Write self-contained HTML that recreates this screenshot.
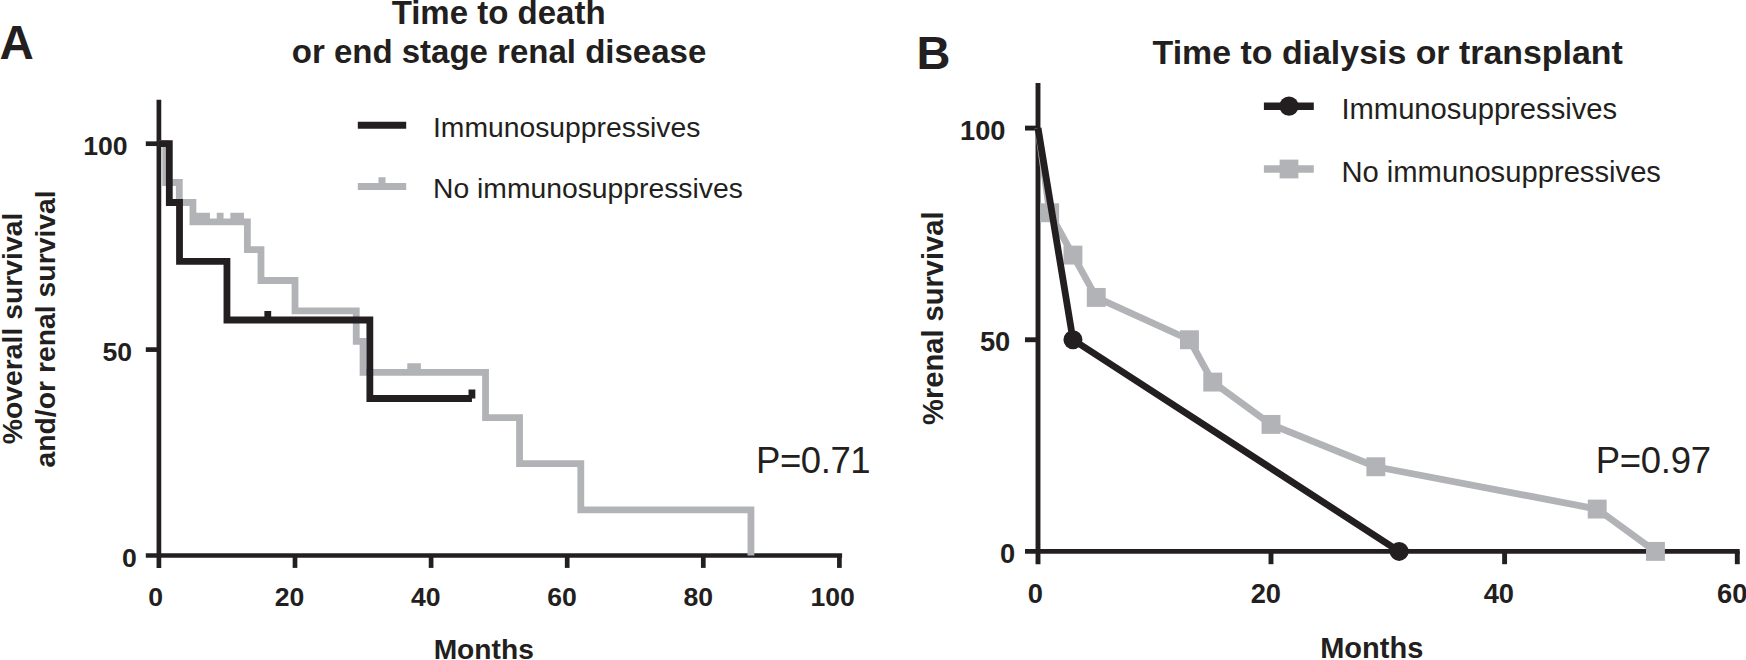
<!DOCTYPE html>
<html lang="en"><head><meta charset="utf-8"><title>Survival curves</title>
<style>html,body{margin:0;padding:0;background:#fff;overflow:hidden}svg{display:block}text{font-family:"Liberation Sans",sans-serif;fill:#231f20}.b{font-weight:bold}</style></head><body>
<svg width="1746" height="660" viewBox="0 0 1746 660">
<rect width="1746" height="660" fill="#fff"/>
<g id="panelA">
<g stroke="#231f20" stroke-width="4.7" fill="none" stroke-linecap="butt">
<path d="M158.9,99.8V567.9"/>
<path d="M145.8,555.5H842.1"/>
<path d="M145.8,349.6H158.9"/>
<path d="M145.8,143.7H158.9"/>
<path d="M295.0,555.5V567.9"/>
<path d="M431.1,555.5V567.9"/>
<path d="M567.2,555.5V567.9"/>
<path d="M703.3,555.5V567.9"/>
<path d="M839.4,555.5V567.9"/>
</g>
<path d="M158.9,143.7H165.71V182.5H179.31V202.5H192.93V221.9H247.37V249.6H260.98V280.5H295.0V310.9H356.25V341.4H363.05V372.3H485.54V417.7H519.56V463.7H580.81V509.8H750.93V555.5" fill="none" stroke="#b1b3b6" stroke-width="6.8" stroke-linejoin="miter"/>
<path d="M192.93,223.9V212.80H209.93V223.9ZM216.75,223.9V212.80H223.55V223.9ZM230.35,223.9V212.80H243.96V223.9ZM407.29,374.3V363.20H420.89V374.3Z" fill="#b1b3b6"/>
<path d="M158.9,143.7H169.31V202.5H179.52V261.3H226.95V320.0H369.86V398.5H471.93" fill="none" stroke="#231f20" stroke-width="6.8" stroke-linejoin="miter"/>
<path d="M267.78,320v-9.1M471.93,398.5v-9.1" fill="none" stroke="#231f20" stroke-width="6.8"/>
<path d="M357.8,125.2H406.2" stroke="#231f20" stroke-width="7" fill="none"/>
<path d="M357.8,186.4H406.2M382,186.4v-9.2" stroke="#b1b3b6" stroke-width="7" fill="none"/>
<text x="433" y="137.4" font-size="28.3">Immunosuppressives</text>
<text x="433" y="198.2" font-size="28.3">No immunosuppressives</text>
<text class="b" x="-0.4" y="58.9" font-size="47.5">A</text>
<text class="b" x="498.6" y="24" font-size="33" text-anchor="middle">Time to death</text>
<text class="b" x="499" y="63.2" font-size="33" text-anchor="middle">or end stage renal disease</text>
<text class="b" transform="translate(22,328.5) rotate(-90)" font-size="28.35" text-anchor="middle">%overall survival</text>
<text class="b" transform="translate(55,328.9) rotate(-90)" font-size="28.35" text-anchor="middle">and/or renal survival</text>
<text class="b" x="127.60000000000001" y="155" font-size="26.6" text-anchor="end">100</text>
<text class="b" x="132.1" y="360.9" font-size="26.6" text-anchor="end">50</text>
<text class="b" x="136.7" y="566.7" font-size="26.6" text-anchor="end">0</text>
<text class="b" x="155.75" y="606.1" font-size="26.6" text-anchor="middle">0</text>
<text class="b" x="289.55" y="606.1" font-size="26.6" text-anchor="middle">20</text>
<text class="b" x="425.75" y="606.1" font-size="26.6" text-anchor="middle">40</text>
<text class="b" x="562.1" y="606.1" font-size="26.6" text-anchor="middle">60</text>
<text class="b" x="698.25" y="606.1" font-size="26.6" text-anchor="middle">80</text>
<text class="b" x="832.6" y="606.1" font-size="26.6" text-anchor="middle">100</text>
<text class="b" x="483.75" y="659.3" font-size="28.2" text-anchor="middle">Months</text>
<text x="813.1" y="472.9" font-size="36.5" letter-spacing="-0.45" text-anchor="middle">P=0.71</text>
</g>
<g id="panelB">
<g stroke="#231f20" stroke-width="4.9" fill="none">
<path d="M1038.0,83.1V564.2"/>
<path d="M1025,551.4H1739.7"/>
<path d="M1025,339.75H1038.0"/>
<path d="M1025,128.1H1038.0"/>
<path d="M1271.0,551.4V564.2"/>
<path d="M1504.6,551.4V564.2"/>
<path d="M1737.3,551.4V564.2"/>
</g>
<path d="M1038.0,128.1L1049.65,212.76L1072.95,255.09L1096.25,297.42L1189.45,339.75L1212.75,382.08L1271.0,424.41L1375.85,466.74L1597.2,509.07L1655.45,551.4" fill="none" stroke="#b1b3b6" stroke-width="6.8" stroke-linejoin="round"/>
<rect x="1040.20" y="203.31" width="18.9" height="18.9" fill="#b1b3b6"/>
<rect x="1063.50" y="245.64" width="18.9" height="18.9" fill="#b1b3b6"/>
<rect x="1086.80" y="287.97" width="18.9" height="18.9" fill="#b1b3b6"/>
<rect x="1180.00" y="330.30" width="18.9" height="18.9" fill="#b1b3b6"/>
<rect x="1203.30" y="372.63" width="18.9" height="18.9" fill="#b1b3b6"/>
<rect x="1261.55" y="414.96" width="18.9" height="18.9" fill="#b1b3b6"/>
<rect x="1366.40" y="457.29" width="18.9" height="18.9" fill="#b1b3b6"/>
<rect x="1587.75" y="499.62" width="18.9" height="18.9" fill="#b1b3b6"/>
<rect x="1646.00" y="541.95" width="18.9" height="18.9" fill="#b1b3b6"/>
<path d="M1038.0,128.1L1072.95,339.75L1399.15,551.4" fill="none" stroke="#231f20" stroke-width="6.8" stroke-linejoin="round"/>
<circle cx="1072.95" cy="339.75" r="9.5" fill="#231f20"/>
<circle cx="1399.15" cy="551.4" r="9.5" fill="#231f20"/>
<path d="M1263.9,106.2H1313.8" stroke="#231f20" stroke-width="7.4" fill="none"/>
<circle cx="1289" cy="106.1" r="9.6" fill="#231f20"/>
<path d="M1263.9,169H1313.8" stroke="#b1b3b6" stroke-width="7.4" fill="none"/>
<rect x="1279.6" y="159.6" width="18.8" height="18.8" fill="#b1b3b6"/>
<text x="1341.4" y="119.1" font-size="29.2">Immunosuppressives</text>
<text x="1341.4" y="181.6" font-size="29.2">No immunosuppressives</text>
<text class="b" x="919.8" y="68.8" font-size="47" dx="-3.4">B</text>
<text class="b" x="1387.7" y="64.2" font-size="33.9" text-anchor="middle">Time to dialysis or transplant</text>
<text class="b" transform="translate(943.3,318.2) rotate(-90)" font-size="29.1" text-anchor="middle">%renal survival</text>
<text class="b" x="1005.5" y="139.5" font-size="27.3" text-anchor="end">100</text>
<text class="b" x="1010.3000000000001" y="351.4" font-size="27.3" text-anchor="end">50</text>
<text class="b" x="1015.3000000000001" y="563" font-size="27.3" text-anchor="end">0</text>
<text class="b" x="1035.25" y="603.3" font-size="27.3" text-anchor="middle">0</text>
<text class="b" x="1265.85" y="603.3" font-size="27.3" text-anchor="middle">20</text>
<text class="b" x="1498.85" y="603.3" font-size="27.3" text-anchor="middle">40</text>
<text class="b" x="1732.3" y="603.3" font-size="27.3" text-anchor="middle">60</text>
<text class="b" x="1371.75" y="658" font-size="29" text-anchor="middle">Months</text>
<text x="1653.2" y="472.9" font-size="36.5" letter-spacing="-0.3" text-anchor="middle">P=0.97</text>
</g>
</svg></body></html>
